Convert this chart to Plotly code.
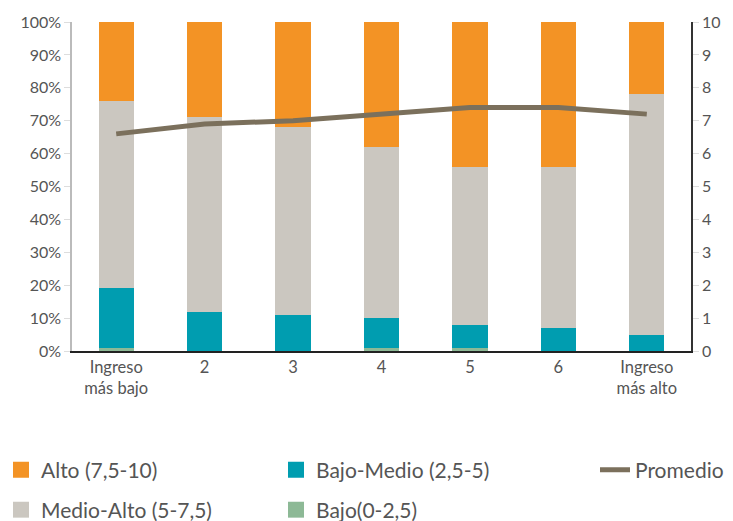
import plotly.graph_objects as go

categories = ["Ingreso<br>más bajo", "2", "3", "4", "5", "6", "Ingreso<br>más alto"]
bajo = [0.01, 0.0, 0.0, 0.01, 0.01, 0.0, 0.0]
bajo_medio = [0.18, 0.12, 0.11, 0.09, 0.07, 0.07, 0.05]
medio_alto = [0.57, 0.59, 0.57, 0.52, 0.48, 0.49, 0.73]
alto = [0.24, 0.29, 0.32, 0.38, 0.44, 0.44, 0.22]
promedio = [6.6, 6.9, 7.0, 7.2, 7.4, 7.4, 7.2]

C_ALTO = "#f39325"
C_MA = "#cbc7c0"
C_BM = "#009db0"
C_BAJO = "#8db996"
C_LINE = "#7b705c"
FONT = "Lato"

fig = go.Figure()
for name, vals, col in [("Bajo(0-2,5)", bajo, C_BAJO), ("Bajo-Medio (2,5-5)", bajo_medio, C_BM),
                        ("Medio-Alto (5-7,5)", medio_alto, C_MA), ("Alto (7,5-10)", alto, C_ALTO)]:
    fig.add_trace(go.Bar(x=categories, y=vals, name=name, marker=dict(color=col, line=dict(width=0)),
                         showlegend=False))

fig.add_trace(go.Scatter(x=categories, y=promedio, yaxis="y2", mode="lines", name="Promedio",
                         line=dict(color=C_LINE, width=5), showlegend=False))

# legend entries
leg_items = [("Alto (7,5-10)", C_ALTO, "legend", 1), ("Bajo-Medio (2,5-5)", C_BM, "legend", 2),
             ("Medio-Alto (5-7,5)", C_MA, "legend2", 4), ("Bajo(0-2,5)", C_BAJO, "legend2", 5)]
for name, col, lg, rank in leg_items:
    fig.add_trace(go.Scatter(x=[None], y=[None], mode="markers", name=name, legend=lg, legendrank=rank,
                             marker=dict(symbol="square", size=18, color=col)))
fig.add_trace(go.Scatter(x=[None], y=[None], yaxis="y2", mode="lines", name="Promedio", legend="legend3",
                         legendrank=3, line=dict(color=C_LINE, width=5)))

legend_common = dict(orientation="h", xref="container", yref="container", xanchor="left", yanchor="middle",
                     entrywidth=230, entrywidthmode="pixels", font=dict(family=FONT, size=21, color="#555"),
                     itemwidth=30, bgcolor="rgba(0,0,0,0)", traceorder="normal")

fig.update_layout(
    width=733, height=521,
    margin=dict(l=72, r=42, t=22, b=170),
    paper_bgcolor="white", plot_bgcolor="white",
    barmode="stack", bargap=0.6,
    font=dict(family=FONT, size=16, color="#555"),
    xaxis=dict(showline=True, linecolor="#222", linewidth=1.5, ticks="", showgrid=False,
               tickfont=dict(size=16.5, color="#555")),
    yaxis=dict(range=[0, 1], dtick=0.1, tickformat=".0%", showgrid=False, zeroline=False,
               showline=True, linecolor="#bbb", linewidth=1.5, ticks="outside", ticklen=6,
               tickcolor="#ddd", tickfont=dict(size=16, color="#555")),
    yaxis2=dict(range=[0, 10], dtick=1, overlaying="y", side="right", showgrid=False, zeroline=False,
                showline=True, linecolor="#333", linewidth=1.5, ticks="outside", ticklen=6,
                tickcolor="#ddd", tickfont=dict(size=16, color="#555")),
    legend=dict(x=1 / 733, y=1 - 470 / 521, **legend_common),
    legend2=dict(x=1 / 733, y=1 - 510 / 521, **legend_common),
    legend3=dict(x=595 / 733, y=1 - 470 / 521, **legend_common),
)

fig.write_html("out.html")
